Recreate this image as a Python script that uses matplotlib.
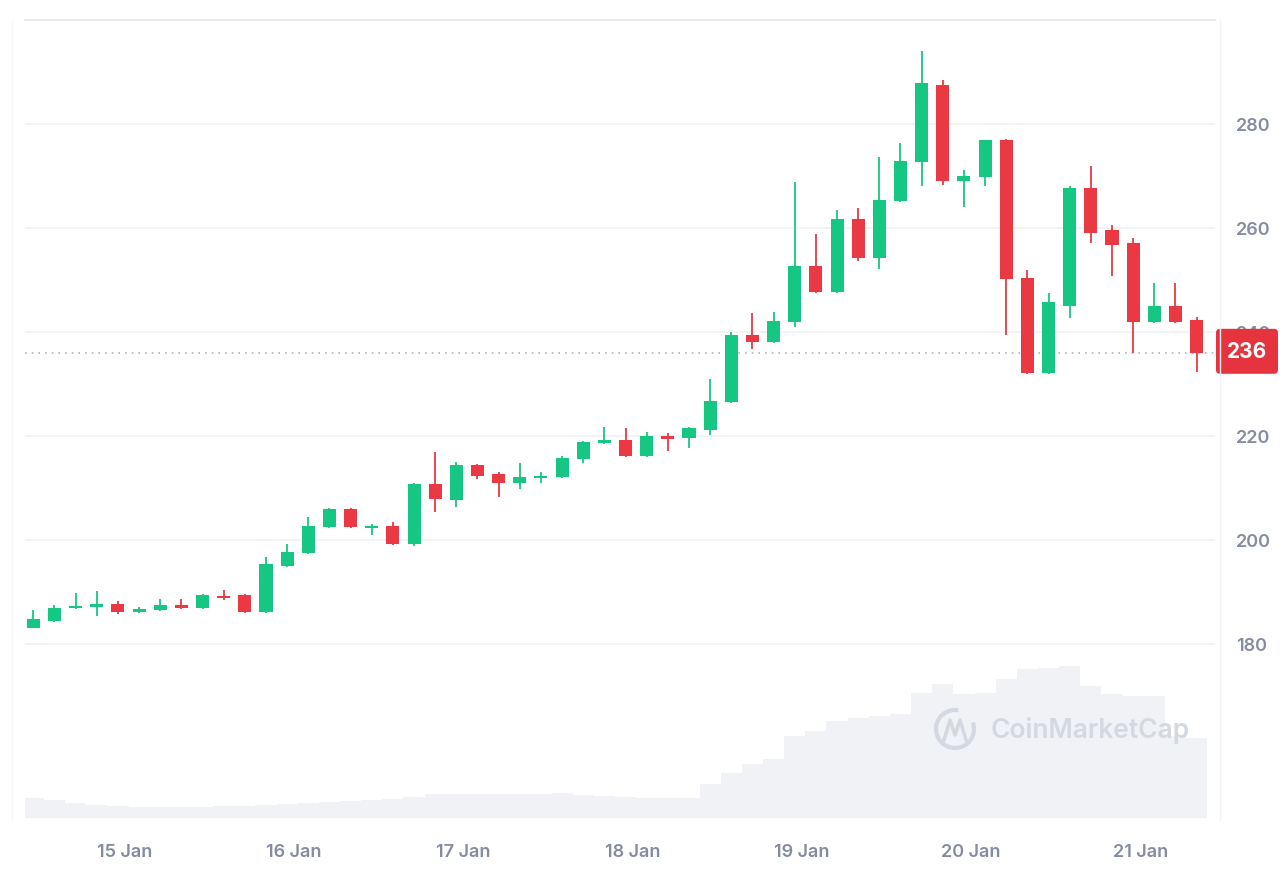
import numpy as np
import pandas as pd
import matplotlib
matplotlib.use("Agg")
import matplotlib.pyplot as plt
import matplotlib.dates as mdates
from matplotlib.patches import FancyBboxPatch, Arc

plt.rcParams['font.family'] = ['Inter', 'DejaVu Sans']

# 3-hour candles, 14 Jan -> 21 Jan
times = pd.date_range('2025-01-14 11:00', periods=56, freq='3h')

opens = [183.1, 184.4, 186.9, 187.1, 187.7, 186.1, 186.6, 187.5, 186.9, 189.2,
         189.4, 186.2, 195.0, 197.5, 202.5, 206.0, 202.3, 202.7, 199.2, 210.8,
         207.7, 214.4, 212.7, 211.0, 211.9, 212.1, 215.6, 218.7, 219.2, 216.2,
         220.0, 219.6, 221.2, 226.5, 239.4, 238.1, 241.9, 252.7, 247.7, 261.7,
         254.2, 265.2, 272.7, 287.5, 269.0, 269.8, 276.9, 250.4, 232.1, 245.0,
         267.7, 259.6, 257.1, 241.9, 245.0, 242.3]
highs = [186.5, 187.5, 189.8, 190.2, 188.3, 187.1, 188.6, 188.6, 189.6, 190.4,
         189.6, 196.7, 199.2, 204.4, 206.2, 206.1, 203.0, 203.5, 211.0, 216.9,
         215.0, 214.7, 213.0, 214.8, 213.1, 216.2, 219.0, 221.7, 221.5, 220.8,
         220.6, 221.7, 231.0, 240.0, 243.6, 243.8, 268.8, 258.8, 263.5, 263.8,
         273.7, 276.3, 294.0, 288.5, 271.2, 277.0, 277.2, 251.9, 247.5, 268.0,
         271.9, 260.6, 258.1, 249.4, 249.4, 242.9]
lows = [183.0, 184.3, 186.7, 185.4, 185.8, 185.9, 186.4, 186.8, 186.8, 188.5,
        186.0, 186.0, 194.8, 197.3, 202.3, 202.3, 201.0, 199.0, 198.8, 205.4,
        206.3, 211.7, 208.3, 209.8, 211.0, 212.0, 214.8, 218.5, 216.0, 216.0,
        217.1, 217.7, 220.2, 226.3, 236.7, 237.9, 241.0, 247.5, 247.5, 253.7,
        252.1, 265.0, 268.1, 268.3, 264.0, 268.1, 239.4, 232.0, 232.0, 242.7,
        257.1, 250.8, 236.0, 241.8, 241.8, 232.3]
closes = [184.8, 187.0, 187.3, 187.7, 186.1, 186.7, 187.5, 186.9, 189.4, 188.8,
          186.2, 195.4, 197.7, 202.7, 206.0, 202.5, 202.7, 199.2, 210.8, 207.9,
          214.4, 212.3, 211.0, 212.1, 212.3, 215.8, 218.8, 219.2, 216.2, 220.0,
          219.4, 221.5, 226.7, 239.4, 238.1, 242.1, 252.7, 247.7, 261.7, 254.2,
          265.4, 272.9, 287.9, 269.0, 270.0, 276.9, 250.2, 232.1, 245.8, 267.7,
          259.0, 256.7, 241.9, 245.0, 241.9, 236.0]
volumes = [20, 18, 15, 13, 12, 11, 11, 11, 11, 12,
           12, 13, 14, 15, 16, 17, 18, 19, 21, 24,
           24, 24, 24, 24, 24, 25, 23, 22, 21, 20,
           20, 20, 34, 45, 54, 59, 82, 87, 97, 100,
           102, 104, 125, 134, 124, 125, 139, 149, 150, 152,
           132, 124, 122, 122, 82, 80]
price_ticks = [180, 200, 220, 240, 260, 280]
last_price = closes[-1]

GREEN = '#16c784'
RED = '#ea3943'
TXT = '#858ca2'

W, H = 1286, 873
fig = plt.figure(figsize=(W / 100, H / 100), dpi=100)
fig.patch.set_facecolor('white')

L, R, T, B = 25, 1215, 20, 818
ax = fig.add_axes([L / W, (H - B) / H, (R - L) / W, (B - T) / H])
ax.set_facecolor('none')

x = mdates.date2num(times)
o = np.array(opens); h = np.array(highs); lo = np.array(lows); c = np.array(closes)
colors = [GREEN if cc >= oo else RED for oo, cc in zip(o, c)]

# volume in the background
axv = ax.twinx()
axv.set_zorder(ax.get_zorder() - 1)
ax.patch.set_visible(False)
step = 3 / 24
edges = np.append(x - step / 2, x[-1] + step / 2)
axv.stairs(volumes, edges, fill=True, color='#f0f2f6', linewidth=0)
axv.set_ylim(0, 798)
axv.set_yticks([])
for s in axv.spines.values():
    s.set_visible(False)

body_w = 0.077
ax.vlines(x, lo, h, colors=colors, linewidth=1.3, zorder=3)
ax.bar(x, np.maximum(np.abs(c - o), 0.4), bottom=np.minimum(o, c), width=body_w,
       color=colors, linewidth=0, zorder=4)

start = mdates.date2num(pd.Timestamp('2025-01-15'))
ax.set_xlim(start + (L - 125) / 169.2, start + (R - 125) / 169.2)
ax.set_ylim(220 - (B - 436) / 5.2, 220 + (436 - T) / 5.2)

ax.xaxis.set_major_locator(mdates.DayLocator())
ax.xaxis.set_major_formatter(mdates.DateFormatter('%d %b'))
ax.yaxis.tick_right()
ax.set_yticks(price_ticks)
ax.tick_params(axis='both', length=0, colors=TXT, labelsize=13)
ax.tick_params(axis='x', pad=19)
ax.tick_params(axis='y', pad=15)
for lab in ax.get_yticklabels() + ax.get_xticklabels():
    lab.set_fontweight('semibold')
ax.grid(axis='y', color='#f0f1f5', linewidth=1.2, zorder=0)
for name, s in ax.spines.items():
    s.set_visible(name == 'top')
ax.spines['top'].set_color('#e8e9ee')
ax.spines['top'].set_linewidth(1.5)

ax.axhline(last_price, color='#aeb4c4', linewidth=1.2, linestyle=(0, (1, 3)), zorder=2)

# overlay in pixel coordinates for decorations
ov = fig.add_axes([0, 0, 1, 1], zorder=10)
ov.set_xlim(0, W)
ov.set_ylim(H, 0)
ov.axis('off')
ov.patch.set_alpha(0)

ov.plot([1220, 1220], [20, 820], color='#f3f4f7', linewidth=1)
ov.plot([12, 12], [20, 820], color='#f5f6f8', linewidth=1)

y_last = 436 - (last_price - 220) * 5.2
ov.add_patch(FancyBboxPatch((1216, y_last - 24), 62, 45,
                            boxstyle='round,pad=0,rounding_size=4',
                            facecolor='#e5343e', edgecolor='none'))
ov.text(1247, y_last - 1, f'{last_price:.0f}', color='white', fontsize=15,
        fontweight='bold', ha='center', va='center')

# watermark
wm = '#d4d8e1'
ov.add_patch(Arc((955, 729), 38, 38, theta1=-20, theta2=280, color=wm, linewidth=3))
ov.plot([944, 950, 955, 960, 966], [740, 720, 735, 720, 740], color=wm,
        linewidth=2.5, solid_joinstyle='round')
ov.text(1090, 730, 'CoinMarketCap', color=wm, fontsize=19, fontweight='semibold',
        ha='center', va='center')

fig.savefig('out.png', dpi=100)
